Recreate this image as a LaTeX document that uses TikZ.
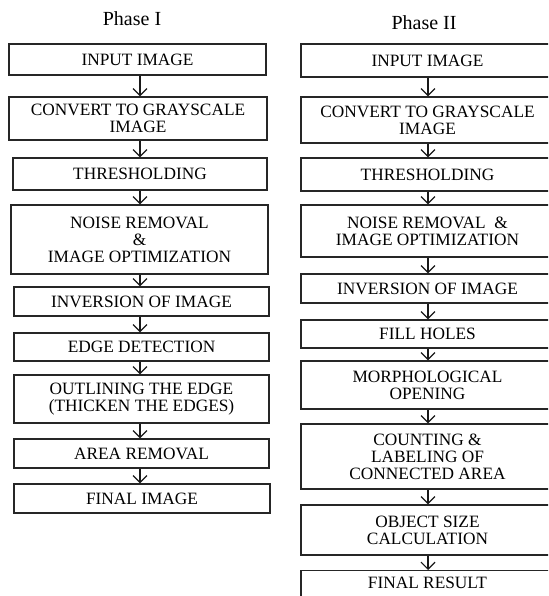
\documentclass[tikz,border=0pt]{standalone}
\usepackage{fontspec}
\setmainfont{Liberation Serif}
\usetikzlibrary{arrows.meta}
\tikzset{
  txtfont/.style={font=\fontsize{17.3}{17}\selectfont, text=black},
  box/.style={draw=black!85, line width=1.2pt, fill=white, inner sep=0pt, align=center, txtfont},
  arr/.style={draw=black!90, line width=1.2pt, -{Straight Barb[length=7pt,width=14pt,line width=1.2pt]}},
  ttl/.style={font=\fontsize{20}{22}\selectfont, text=black}
}
\begin{document}
\begin{tikzpicture}[x=1pt,y=-1pt]
\useasboundingbox (0,0) rectangle (548,596);
\clip (0,0) rectangle (548,596);
\fill[white] (0,0) rectangle (548,596);
% titles
\node[ttl] (t1) at (132,18.5) {Phase I};
\node[ttl] (t2) at (424,22.5) {Phase II};
% Phase I
\node[box, minimum width=257pt, minimum height=31pt] (inL) at (137.5,59.5) {INPUT IMAGE};
\node[box, minimum width=258pt, minimum height=43pt] (cvL) at (138,118.5) {CONVERT TO GRAYSCALE\\IMAGE};
\node[box, minimum width=254pt, minimum height=32pt] (thL) at (140,174) {THRESHOLDING};
\node[box, minimum width=257pt, minimum height=69pt] (nrL) at (139.5,239.5) {NOISE REMOVAL\\\&\\IMAGE OPTIMIZATION};
\node[box, minimum width=255pt, minimum height=29pt] (ivL) at (141.5,301.5) {INVERSION OF IMAGE};
\node[box, minimum width=255pt, minimum height=28pt] (edL) at (141.5,347) {EDGE DETECTION};
\node[box, minimum width=255pt, minimum height=48pt] (olL) at (141.5,399) {OUTLINING THE EDGE\\(THICKEN THE EDGES)};
\node[box, minimum width=255pt, minimum height=29pt] (arL) at (141.5,453.5) {AREA REMOVAL};
\node[box, minimum width=256pt, minimum height=29pt] (fiL) at (142,498.5) {FINAL IMAGE};
% Phase II
\node[box, minimum width=253pt, minimum height=33pt] (inR) at (427.5,60.5) {INPUT IMAGE};
\node[box, minimum width=253pt, minimum height=46pt] (cvR) at (427.5,120) {CONVERT TO GRAYSCALE\\IMAGE};
\node[box, minimum width=253pt, minimum height=33pt] (thR) at (427.5,174.5) {THRESHOLDING};
\node[box, minimum width=253pt, minimum height=52pt] (nrR) at (427.5,231) {NOISE REMOVAL~~\&\\IMAGE OPTIMIZATION};
\node[box, minimum width=253pt, minimum height=29pt] (ivR) at (427.5,288.5) {INVERSION OF IMAGE};
\node[box, minimum width=253pt, minimum height=28pt] (fhR) at (427.5,334) {FILL HOLES};
\node[box, minimum width=253pt, minimum height=48pt] (moR) at (427.5,385) {MORPHOLOGICAL\\OPENING};
\node[box, minimum width=253pt, minimum height=65pt] (coR) at (427.5,456.5) {COUNTING \&\\LABELING OF\\CONNECTED AREA};
\node[box, minimum width=253pt, minimum height=50pt] (osR) at (427.5,530) {OBJECT SIZE\\CALCULATION};
\node[box, minimum width=253pt, minimum height=30pt, anchor=north] (frR) at (427.5,570) {};
\node[txtfont] (frT) at (427.5,583) {FINAL RESULT};
% arrows Phase I
\coordinate (xL) at (140,0);
\foreach \a/\b in {inL/cvL, cvL/thL, thL/nrL, nrL/ivL, ivL/edL, edL/olL, olL/arL, arL/fiL}
  \draw[arr] (\a.south -| xL) -- (\b.north -| xL);
% arrows Phase II
\coordinate (xR) at (428,0);
\foreach \a/\b in {inR/cvR, cvR/thR, thR/nrR, nrR/ivR, ivR/fhR, fhR/moR, moR/coR, coR/osR, osR/frR}
  \draw[arr] (\a.south -| xR) -- (\b.north -| xR);
\end{tikzpicture}
\end{document}
